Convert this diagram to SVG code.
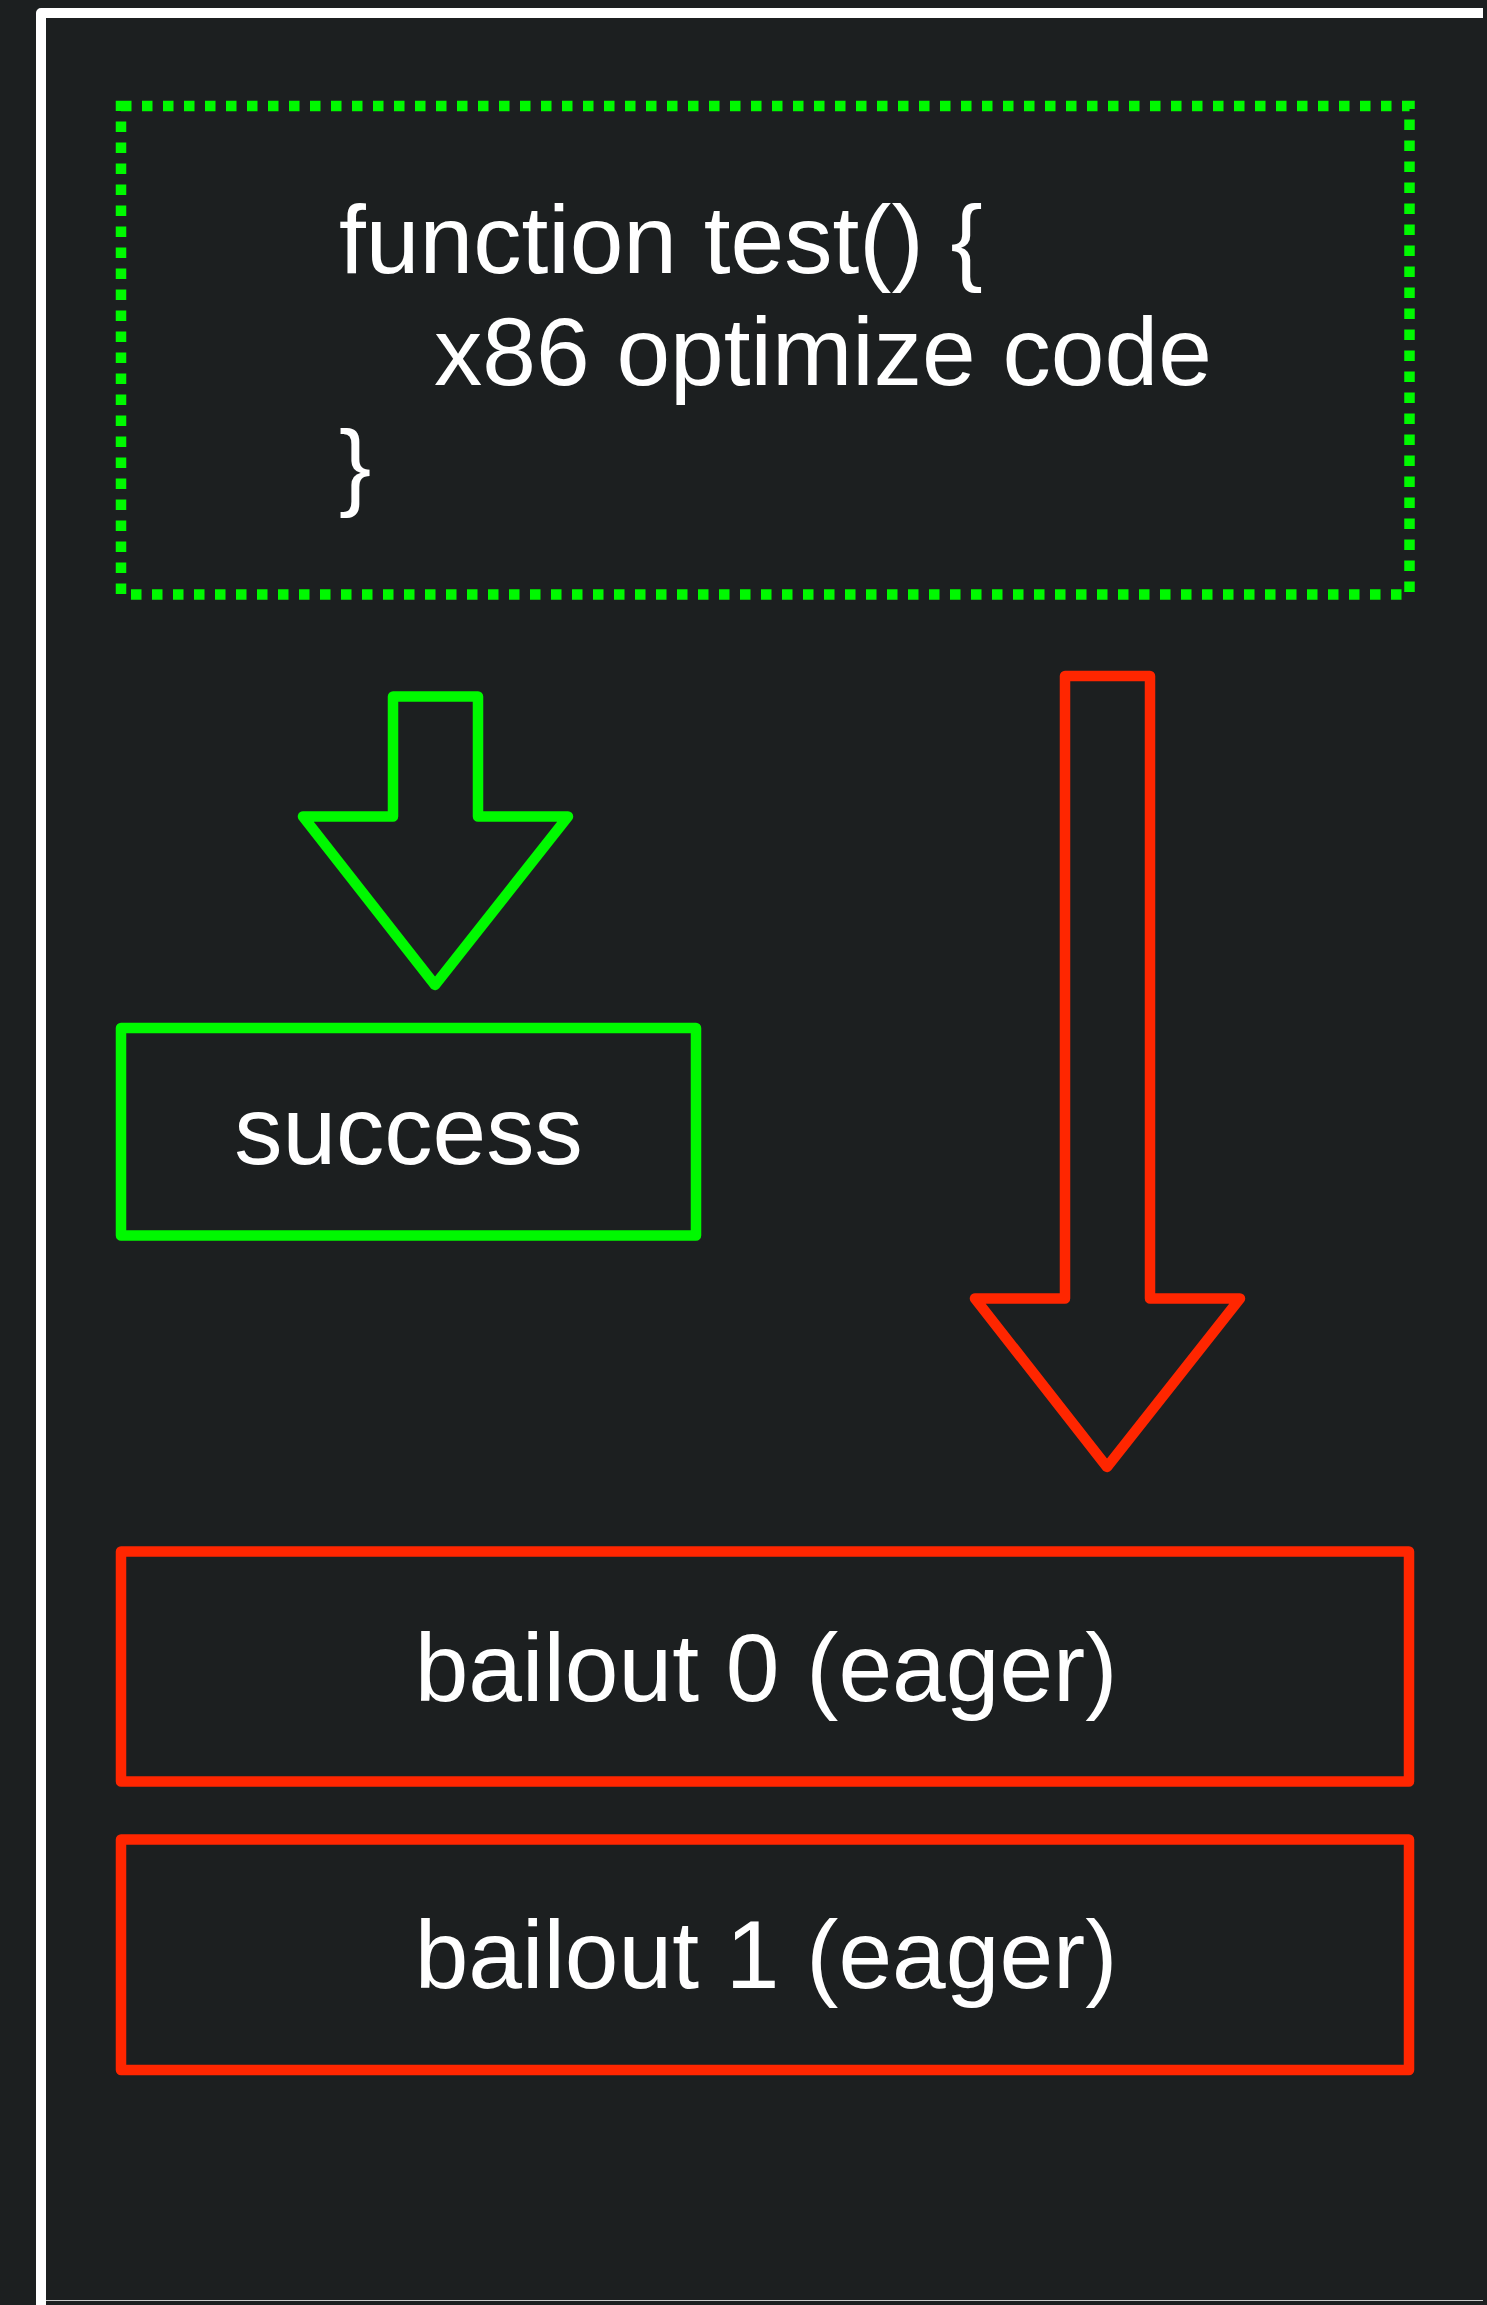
<svg xmlns="http://www.w3.org/2000/svg" width="1487" height="2305" viewBox="0 0 1487 2305">
  <style>
    .label { font-family: "Liberation Sans", Arial, sans-serif; font-size: 96.5px; fill: #ffffff; }
    .mid { text-anchor: middle; }
    .ok { fill: none; stroke: #00f900; stroke-width: 10.5; stroke-linejoin: round; }
    .fail { fill: none; stroke: #ff2600; stroke-width: 10.5; stroke-linejoin: round; }
    .dotted { fill: none; stroke: #00f900; stroke-width: 10.5; stroke-dasharray: 10.5 10.5; }
  </style>

  <!-- page background -->
  <rect x="0" y="0" width="1487" height="2305" fill="#1c1f20"/>
  <!-- white frame on top and left edges -->
  <path d="M36,2305 V13 A5,5 0 0 1 41,8 H1483 V18 H46 V2305 Z" fill="#ffffff"/>
  <line x1="46" y1="2300.5" x2="1483" y2="2300.5" stroke="#c8c8c8" stroke-width="1"/>

  <!-- optimized function block -->
  <g id="code">
    <rect class="dotted" x="121" y="106" width="1288.5" height="488.5"/>
    <text class="label" x="339" y="272.5">function test() {</text>
    <text class="label" x="434" y="385">x86 optimize code</text>
    <text class="label" x="339" y="497.5">}</text>
  </g>

  <g id="success">
    <rect class="ok" x="121" y="1028" width="575" height="207.5"/>
    <text class="label mid" x="408.5" y="1164">success</text>
  </g>

  <g id="bailout0">
    <rect class="fail" x="121" y="1551.5" width="1288" height="230"/>
    <text class="label mid" x="766" y="1700.5">bailout 0 (eager)</text>
  </g>

  <g id="bailout1">
    <rect class="fail" x="121" y="1839.5" width="1288" height="230.5"/>
    <text class="label mid" x="766" y="1988">bailout 1 (eager)</text>
  </g>

  <!-- block arrows -->
  <g id="connectors">
    <polygon class="ok" points="393,696.5 478,696.5 478,816.5 568,816.5 435,985 303,816.5 393,816.5"/>
    <polygon class="fail" points="1065,676 1150,676 1150,1298.5 1240,1298.5 1107,1467 975,1298.5 1065,1298.5"/>
  </g>
</svg>
